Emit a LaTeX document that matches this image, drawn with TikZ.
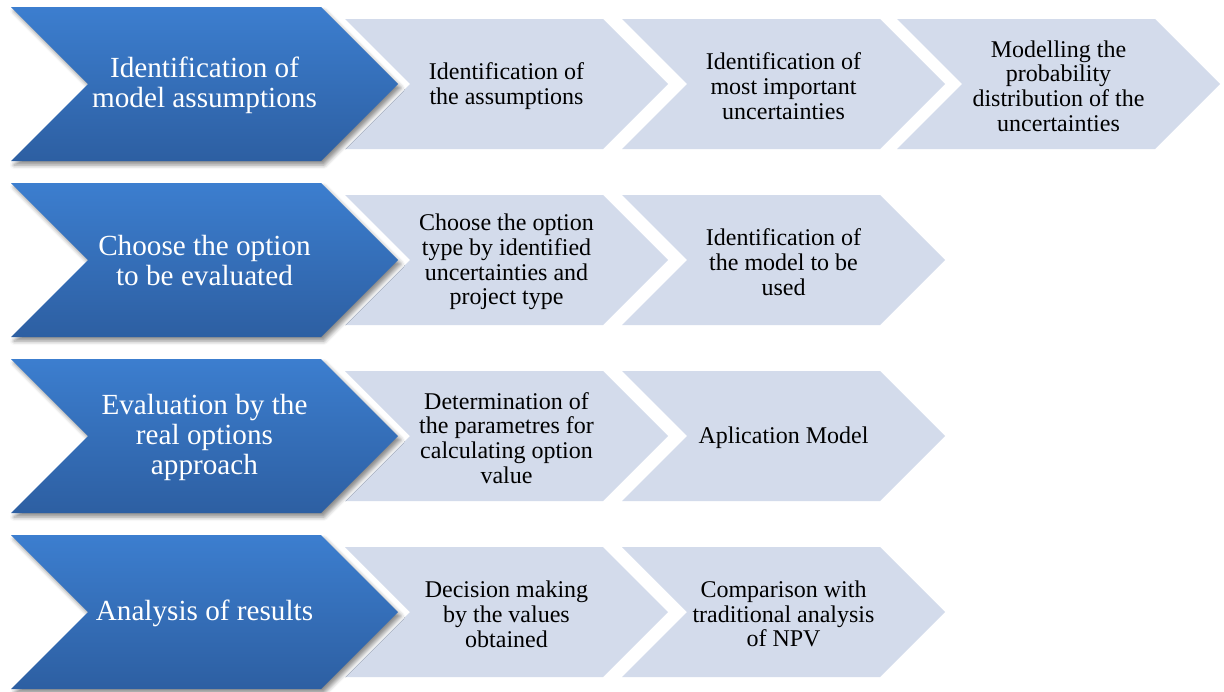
\documentclass[tikz,border=0pt]{standalone}
\usepackage{fontspec}
\setmainfont{Liberation Serif}
\usetikzlibrary{shadows.blur}
\definecolor{stagetop}{RGB}{60,126,207}
\definecolor{stagebot}{RGB}{45,95,162}
\definecolor{taskfill}{RGB}{211,219,235}
\tikzset{
    stage/.style={top color=stagetop, bottom color=stagebot,
        blur shadow={shadow xshift=1.5pt, shadow yshift=-2pt,
                     shadow blur radius=2pt, shadow opacity=45}},
    task/.style={fill=taskfill},
    stagetext/.style={text=white, align=center, yshift=-0.5pt,
        font=\fontsize{14.6}{15}\selectfont},
    tasktext/.style={text=black, align=center, yshift=-1pt,
        font=\fontsize{12}{12.4}\selectfont}}
% chevron: left x, middle y, full width, half height, style
\newcommand\chevron[5]{%
    \path[#5] (#1,#2-#4) -- ++(#3-#4,0) -- ++(#4,#4) -- ++(-#4,#4)
        -- ++(-#3+#4,0) -- ++(#4,-#4) -- cycle;}

\begin{document}
\begin{tikzpicture}[x=0.5pt, y=-0.5pt]
    \useasboundingbox (0,0) rectangle (1224,691);

    % row 1
    \chevron{345}{84}{323}{65}{task}
    \chevron{622}{84}{323}{65}{task}
    \chevron{897}{84}{323}{65}{task}
    \chevron{11}{84}{387}{77}{stage}
    \node[stagetext] (s1) at (204.5,84) {Identification of\\model assumptions};
    \node[tasktext] (t11) at (506.5,84) {Identification of\\the assumptions};
    \node[tasktext] (t12) at (783.5,84) {Identification of\\most important\\uncertainties};
    \node[tasktext] (t13) at (1058.5,84) {Modelling the\\probability\\distribution of the\\uncertainties};

    % row 2
    \chevron{345}{260}{323}{65}{task}
    \chevron{622}{260}{323}{65}{task}
    \chevron{11}{260}{387}{77}{stage}
    \node[stagetext] (s2) at (204.5,260) {Choose the option\\to be evaluated};
    \node[tasktext] (t21) at (506.5,260) {Choose the option\\type by identified\\uncertainties and\\project type};
    \node[tasktext] (t22) at (783.5,260) {Identification of\\the model to be\\used};

    % row 3
    \chevron{345}{436}{323}{65}{task}
    \chevron{622}{436}{323}{65}{task}
    \chevron{11}{436}{387}{77}{stage}
    \node[stagetext] (s3) at (204.5,436) {Evaluation by the\\real options\\approach};
    \node[tasktext] (t31) at (506.5,436) {Determination of\\the parametres for\\calculating option\\value};
    \node[tasktext] (t32) at (783.5,436) {Aplication Model};

    % row 4
    \chevron{345}{612}{323}{65}{task}
    \chevron{622}{612}{323}{65}{task}
    \chevron{11}{612}{387}{77}{stage}
    \node[stagetext] (s4) at (204.5,612) {Analysis of results};
    \node[tasktext] (t41) at (506.5,612) {Decision making\\by the values\\obtained};
    \node[tasktext] (t42) at (783.5,612) {Comparison with\\traditional analysis\\of NPV};
\end{tikzpicture}
\end{document}
